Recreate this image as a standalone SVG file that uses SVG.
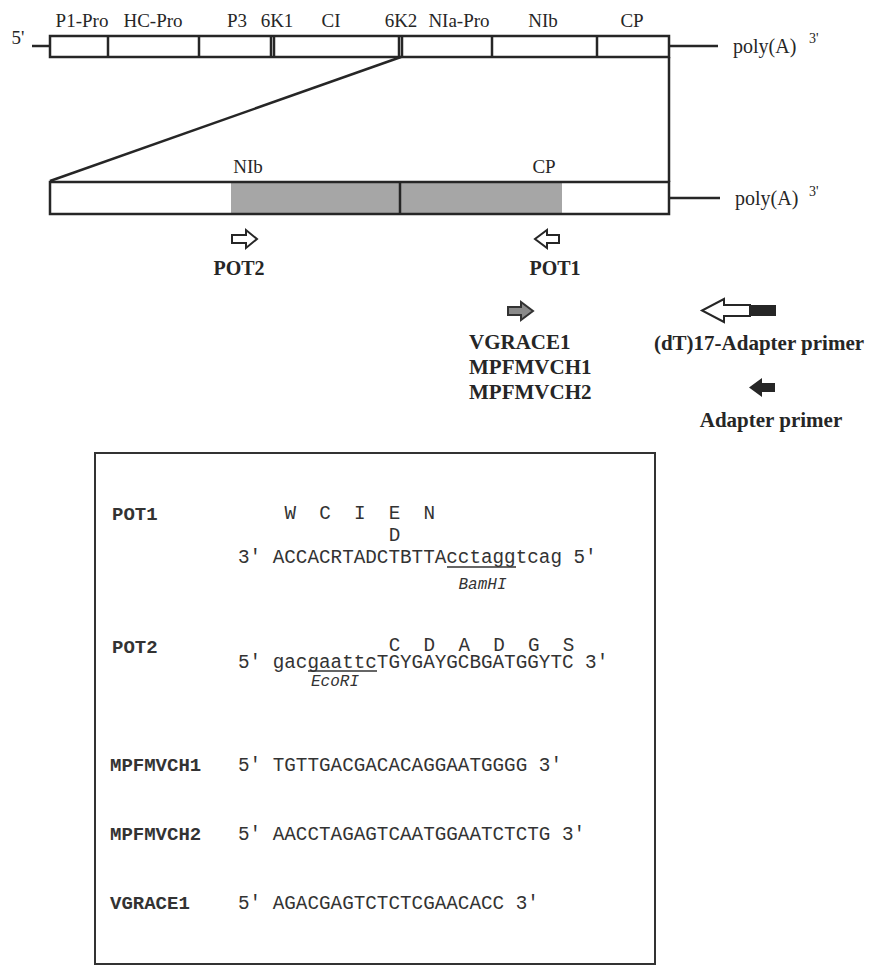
<svg xmlns="http://www.w3.org/2000/svg" width="878" height="967" viewBox="0 0 878 967">
<style>
.ln{stroke:#262626;stroke-width:2.5;fill:none}
.bar{stroke:#262626;stroke-width:2.5;fill:#fff}
.t{font-family:"Liberation Serif",serif;font-size:19px;fill:#262626}
.tp{font-family:"Liberation Serif",serif;font-size:20px;fill:#262626}
.tb{font-family:"Liberation Serif",serif;font-size:20px;font-weight:bold;fill:#262626}
.tb2{font-family:"Liberation Serif",serif;font-size:21px;font-weight:bold;fill:#262626}
.sup{font-family:"Liberation Serif",serif;font-size:14px;fill:#262626}
.m{font-family:"Liberation Mono",monospace;font-size:19.3px;fill:#333}
.mb{font-family:"Liberation Mono",monospace;font-size:19px;font-weight:bold;fill:#333}
.mi{font-family:"Liberation Mono",monospace;font-size:16px;font-style:italic;fill:#333}
.ha{fill:#fff;stroke:#262626;stroke-width:2}
</style>
<rect width="878" height="967" fill="#fff"/>
<g id="genome">
<line class="ln" x1="32" y1="46" x2="50" y2="46"/>
<rect class="bar" x="50" y="36" width="619" height="21"/>
<g class="ln">
<line x1="108" y1="36" x2="108" y2="57"/>
<line x1="199" y1="36" x2="199" y2="57"/>
<line x1="271" y1="36" x2="271" y2="57"/>
<line x1="274" y1="36" x2="274" y2="57"/>
<line x1="399" y1="36" x2="399" y2="57"/>
<line x1="402" y1="36" x2="402" y2="57"/>
<line x1="492" y1="36" x2="492" y2="57"/>
<line x1="597" y1="36" x2="597" y2="57"/>
</g>
<line class="ln" x1="669" y1="46" x2="718" y2="46"/>
<text class="t" x="18" y="44" text-anchor="middle">5'</text>
<text class="t" x="82" y="27" text-anchor="middle">P1-Pro</text>
<text class="t" x="153" y="27" text-anchor="middle">HC-Pro</text>
<text class="t" x="237" y="27" text-anchor="middle">P3</text>
<text class="t" x="277" y="27" text-anchor="middle">6K1</text>
<text class="t" x="331" y="27" text-anchor="middle">CI</text>
<text class="t" x="401" y="27" text-anchor="middle">6K2</text>
<text class="t" x="459" y="27" text-anchor="middle">NIa-Pro</text>
<text class="t" x="543" y="27" text-anchor="middle">NIb</text>
<text class="t" x="632" y="27" text-anchor="middle">CP</text>
<text class="tp" x="733" y="53">poly(A)</text>
<text class="sup" x="809" y="43">3'</text>
</g>
<g id="connectors">
<line class="ln" x1="401" y1="57" x2="50" y2="181"/>
<line class="ln" x1="669" y1="57" x2="669" y2="182"/>
</g>
<g id="region">
<rect x="50" y="182" width="619" height="32" fill="#fff"/>
<rect x="231" y="182" width="331" height="32" fill="#a6a6a6"/>
<rect x="50" y="182" width="619" height="32" fill="none" stroke="#262626" stroke-width="2.5"/>
<line class="ln" x1="400" y1="182" x2="400" y2="214"/>
<line class="ln" x1="669" y1="198" x2="720" y2="198"/>
<text class="t" x="248" y="173" text-anchor="middle">NIb</text>
<text class="t" x="544" y="173" text-anchor="middle">CP</text>
<text class="tp" x="735" y="205">poly(A)</text>
<text class="sup" x="809" y="196">3'</text>
</g>
<g id="POT2-arrow">
<path class="ha" d="M232,235 H246 V230 L257,239 L246,248 V243 H232 Z"/>
<text class="tb" x="239" y="275" text-anchor="middle">POT2</text>
</g>
<g id="POT1-arrow">
<path class="ha" d="M559,235 H547 V230 L535,239 L547,248 V243 H559 Z"/>
<text class="tb" x="555" y="275" text-anchor="middle">POT1</text>
</g>
<g id="forward-primers">
<path d="M508,307 H521 V302 L533,311 L521,320 V315 H508 Z" fill="#8a8a8a" stroke="#333" stroke-width="2"/>
<text class="tb2" x="469" y="349">VGRACE1</text>
<text class="tb2" x="469" y="374">MPFMVCH1</text>
<text class="tb2" x="469" y="399">MPFMVCH2</text>
</g>
<g id="dT-adapter">
<path class="ha" d="M750,305 H724 V299 L702,310.5 L724,322 V316 H750 Z"/>
<rect x="750" y="305" width="26" height="11" fill="#262626"/>
<text class="tb2" x="759" y="350" text-anchor="middle">(dT)17-Adapter primer</text>
</g>
<g id="adapter">
<path d="M775,383 H762 V378 L749,387.5 L762,397 V392 H775 Z" fill="#262626"/>
<text class="tb2" x="771" y="427" text-anchor="middle">Adapter primer</text>
</g>
<g id="sequence-box">
<rect x="95" y="453" width="560" height="511" fill="none" stroke="#333" stroke-width="2"/>
<text class="mb" x="112" y="520">POT1</text>
<text class="m" x="284.4 319.2 354 388.8 423.6" y="519">WCIEN</text>
<text class="m" x="388.8" y="541">D</text>
<text class="m" x="238" y="563">3' ACCACRTADCTBTTAcctaggtcag 5'</text>
<line x1="447" y1="567" x2="516" y2="567" stroke="#333" stroke-width="1.5"/>
<text class="mi" x="482.5" y="589" text-anchor="middle">BamHI</text>
<text class="mb" x="112" y="653">POT2</text>
<text class="m" x="388.8 423.6 458.4 493.2 528 562.8" y="651">CDADGS</text>
<text class="m" x="238" y="668">5' gacgaattcTGYGAYGCBGATGGYTC 3'</text>
<line x1="308" y1="671" x2="377" y2="671" stroke="#333" stroke-width="1.5"/>
<text class="mi" x="335" y="686" text-anchor="middle">EcoRI</text>
<text class="mb" x="110" y="771">MPFMVCH1</text>
<text class="m" x="238" y="771">5' TGTTGACGACACAGGAATGGGG 3'</text>
<text class="mb" x="110" y="840">MPFMVCH2</text>
<text class="m" x="238" y="840">5' AACCTAGAGTCAATGGAATCTCTG 3'</text>
<text class="mb" x="110" y="909">VGRACE1</text>
<text class="m" x="238" y="909">5' AGACGAGTCTCTCGAACACC 3'</text>
</g>
</svg>
